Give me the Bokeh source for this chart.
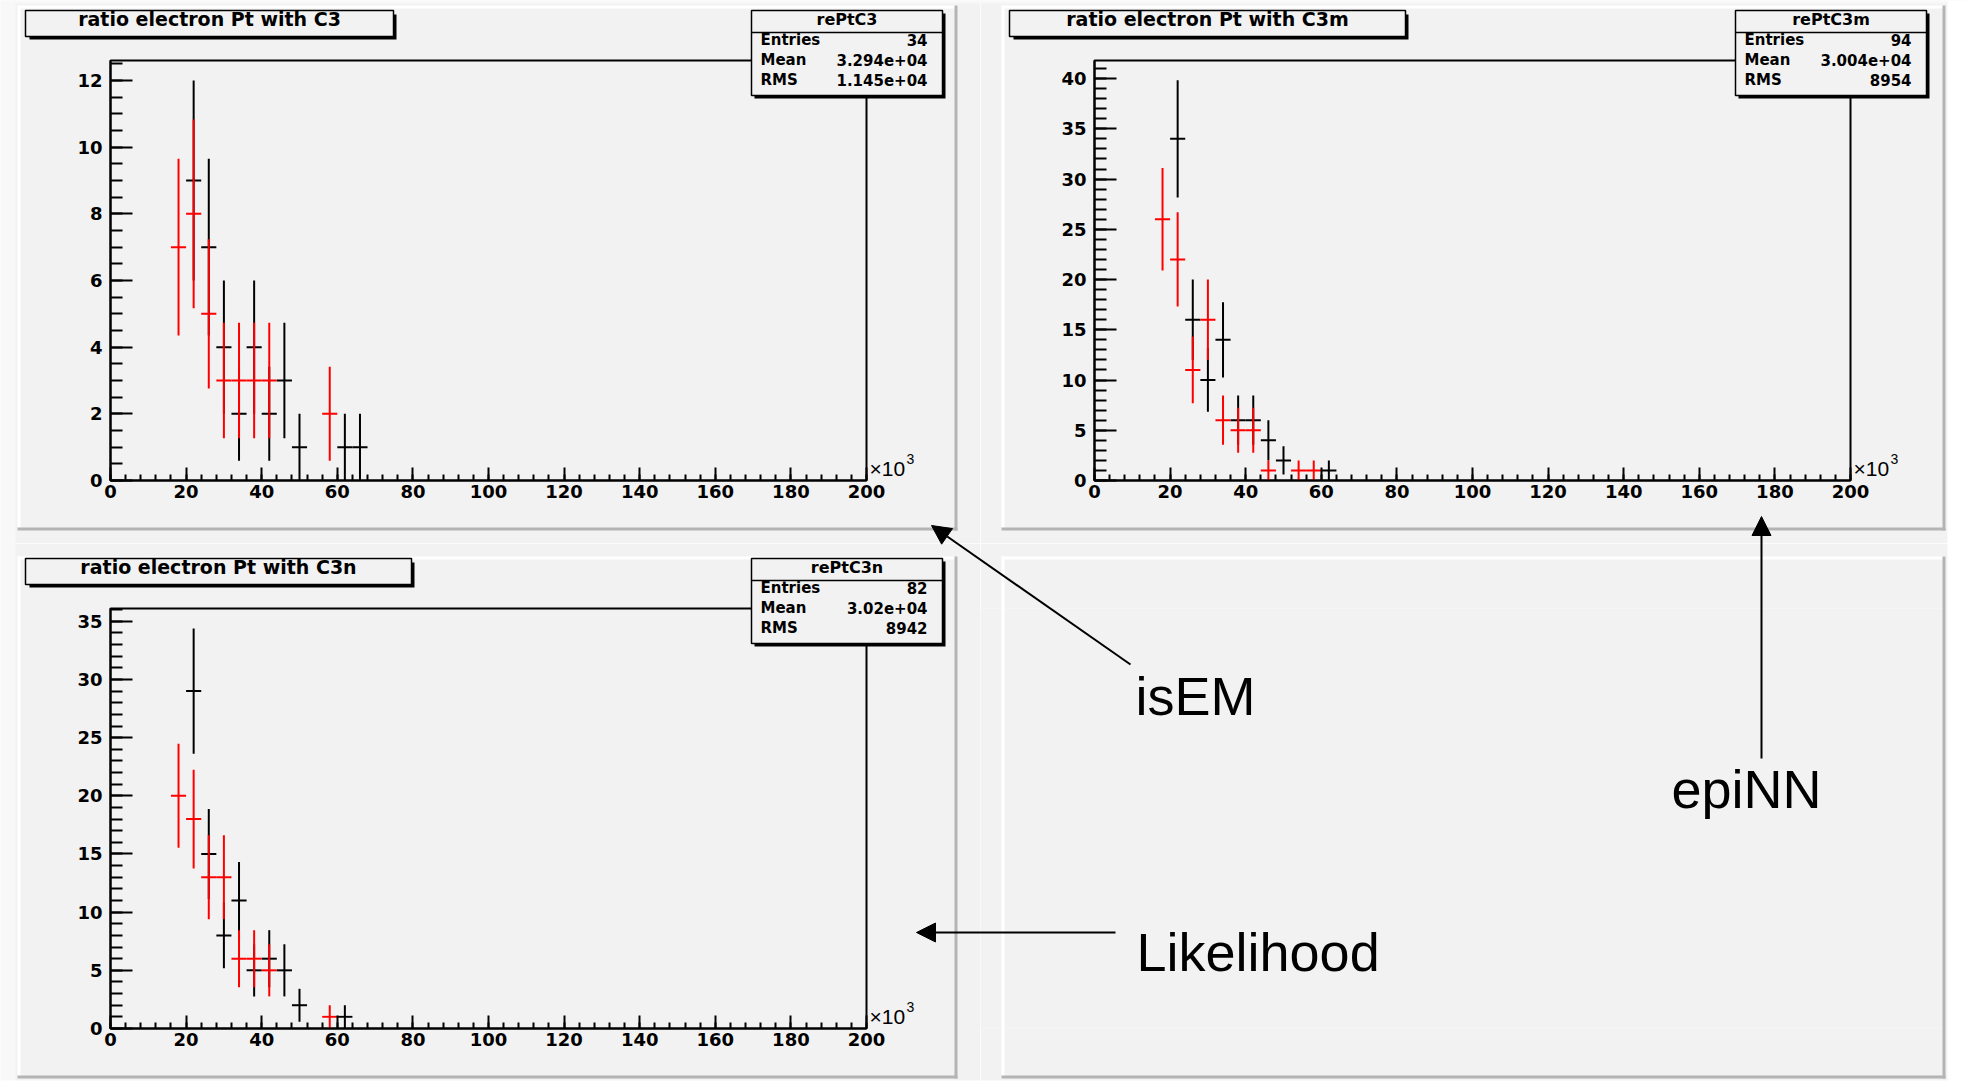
from bokeh.plotting import figure
from bokeh.models import Range1d, SingleIntervalTicker, Arrow, NormalHead
from bokeh.core.properties import value
from bokeh.layouts import row, column
from bokeh.embed import file_html
from bokeh.resources import INLINE

# ---------------- data (x in units of 10^3) ----------------
bin_width = 4.0

# ratio electron Pt with C3  (isEM)
c3_black_x = [22, 26, 30, 34, 38, 42, 46, 50, 62, 66]
c3_black_y = [9, 7, 4, 2, 4, 2, 3, 1, 1, 1]
c3_black_err = [3.0, 2.65, 2.0, 1.41, 2.0, 1.41, 1.73, 1.0, 1.0, 1.0]
c3_red_x = [18, 22, 26, 30, 34, 38, 42, 58]
c3_red_y = [7, 8, 5, 3, 3, 3, 3, 2]
c3_red_err = [2.65, 2.83, 2.24, 1.73, 1.73, 1.73, 1.73, 1.41]

# ratio electron Pt with C3m  (epiNN)
c3m_black_x = [22, 26, 30, 34, 38, 42, 46, 50, 62]
c3m_black_y = [34, 16, 10, 14, 6, 6, 4, 2, 1]
c3m_black_err = [5.83, 4.0, 3.16, 3.74, 2.45, 2.45, 2.0, 1.41, 1.0]
c3m_red_x = [18, 22, 26, 30, 34, 38, 42, 46, 54, 58]
c3m_red_y = [26, 22, 11, 16, 6, 5, 5, 1, 1, 1]
c3m_red_err = [5.10, 4.69, 3.32, 4.0, 2.45, 2.24, 2.24, 1.0, 1.0, 1.0]

# ratio electron Pt with C3n  (Likelihood)
c3n_black_x = [22, 26, 30, 34, 38, 42, 46, 50, 62]
c3n_black_y = [29, 15, 8, 11, 5, 6, 5, 2, 1]
c3n_black_err = [5.39, 3.87, 2.83, 3.32, 2.24, 2.45, 2.24, 1.41, 1.0]
c3n_red_x = [18, 22, 26, 30, 34, 38, 42, 58]
c3n_red_y = [20, 18, 13, 13, 6, 6, 5, 1]
c3n_red_err = [4.47, 4.24, 3.61, 3.61, 2.45, 2.45, 2.24, 1.0]

titles = ["ratio electron Pt with C3", "ratio electron Pt with C3m", "ratio electron Pt with C3n"]
stat_names = ["rePtC3", "rePtC3m", "rePtC3n"]
stat_keys = ["Entries", "Mean", "RMS"]
stat_values = [["34", "3.294e+04", "1.145e+04"],
               ["94", "3.004e+04", "8954"],
               ["82", "3.02e+04", "8942"]]
y_max = [12.6, 41.8, 36.1]
y_major = [2, 5, 5]
y_minor = [4, 5, 5]
annot_texts = ["isEM", "epiNN", "Likelihood"]

# ---------------- style / layout ----------------
PAD = "#f2f2f2"
SHADOW = "#b4b4b4"
RFONT = "DejaVu Sans"
AFONT = "Liberation Sans"
W, H = 1965, 1083
COLX, ROWY = 980, 543

# frames (page pixels): left, top, right, bottom
frames = [(110, 60, 866, 480), (1094, 60, 1850, 480), (110, 608, 866, 1028)]
origins = [(0, 0), (COLX, 0), (0, ROWY)]
sizes = [(COLX, ROWY), (W - COLX, ROWY), (COLX, H - ROWY)]
pads = [(17, 5, 957, 530), (1001, 5, 1945, 530), (17, 556, 957, 1078), (1001, 556, 1945, 1078)]
title_widths = [368, 396, 386]


def hist_panel(idx, series):
    ox, oy = origins[idx]
    w, h = sizes[idx]
    fl, ft, fr, fb = frames[idx]
    p = figure(width=w, height=h, x_range=Range1d(0, 200), y_range=Range1d(0, y_max[idx]),
               min_border_left=fl - ox, min_border_right=w - (fr - ox),
               min_border_top=ft - oy, min_border_bottom=h - (fb - oy),
               toolbar_location=None, output_backend="svg",
               background_fill_color=PAD, border_fill_color=PAD,
               outline_line_color="black", outline_line_width=2)
    p.grid.visible = False
    p.xaxis.ticker = SingleIntervalTicker(interval=20, num_minor_ticks=5)
    p.yaxis.ticker = SingleIntervalTicker(interval=y_major[idx], num_minor_ticks=y_minor[idx])
    for ax in (p.xaxis[0], p.yaxis[0]):
        ax.axis_line_width = 2
        ax.major_tick_line_width = 2
        ax.minor_tick_line_width = 2
        ax.major_tick_out = 0
        ax.minor_tick_out = 0
        ax.major_label_text_font = RFONT
        ax.major_label_text_font_style = "bold"
        ax.major_label_text_font_size = "18px"
        ax.major_label_text_color = "black"
    p.xaxis.major_tick_in = 13
    p.xaxis.minor_tick_in = 6
    p.xaxis.major_label_standoff = 4
    p.yaxis.major_tick_in = 22
    p.yaxis.minor_tick_in = 12
    p.yaxis.major_label_standoff = 8

    for xs, ys, es, col in series:
        p.segment(x0=xs, y0=[y - e for y, e in zip(ys, es)], x1=xs,
                  y1=[y + e for y, e in zip(ys, es)], line_color=col, line_width=2)
        p.segment(x0=[x - bin_width / 2 for x in xs], y0=ys,
                  x1=[x + bin_width / 2 for x in xs], y1=ys, line_color=col, line_width=2)
    return p


p1 = hist_panel(0, [(c3_black_x, c3_black_y, c3_black_err, "black"),
                    (c3_red_x, c3_red_y, c3_red_err, "#ff0000")])
p2 = hist_panel(1, [(c3m_black_x, c3m_black_y, c3m_black_err, "black"),
                    (c3m_red_x, c3m_red_y, c3m_red_err, "#ff0000")])
p3 = hist_panel(2, [(c3n_black_x, c3n_black_y, c3n_black_err, "black"),
                    (c3n_red_x, c3n_red_y, c3n_red_err, "#ff0000")])
p4 = figure(width=W - COLX, height=H - ROWY, min_border=0, x_axis_location=None,
            y_axis_location=None, toolbar_location=None, output_backend="svg",
            background_fill_color=PAD, border_fill_color=PAD, outline_line_color=None)
p4.grid.visible = False

base = column(row(p1, p2, spacing=0), row(p3, p4, spacing=0), spacing=0)

# ---------------- transparent overlay in page pixels ----------------
ov = figure(width=W, height=H, x_range=Range1d(0, W), y_range=Range1d(H, 0), min_border=0,
            x_axis_location=None, y_axis_location=None, toolbar_location=None,
            output_backend="svg", background_fill_color=None, border_fill_color=None,
            outline_line_color=None,
            styles={"position": "absolute", "left": "0px", "top": "0px"},
            stylesheets=[":host { position: absolute !important; left: 0px !important; "
                         "top: 0px !important; }"])
ov.grid.visible = False


def box(l, t, r, b, fill, line=None, lw=1.0):
    ov.quad(left=[l], right=[r], top=[t], bottom=[b], fill_color=fill, fill_alpha=1.0,
            line_color=line, line_width=lw)


def txt(x, y, s, size, font=RFONT, bold=True, align="left"):
    # y is the wanted baseline; compensate the renderer's baseline offset
    shift = 0.45 * size if size < 30 else 0.37 * size
    ov.text(x=[x], y=[y - shift], text=[s], text_font=value(font), text_font_size=f"{size}px",
            text_font_style="bold" if bold else "normal", text_align=align,
            text_baseline="alphabetic", text_color="black")


# canvas margins outside the pads
box(0, 0, 15, H, "#f8f8f8")
box(0, 0, W, 3, "#f8f8f8")
box(1947, 0, W, H, "white")
box(0, 1080, W, H, "white")

# pad bevels
for x0, y0, x1, y1 in pads:
    box(x0, y0, x1, y0 + 3, "white")
    box(x0, y0, x0 + 3, y1, "white")
    box(x1 - 3, y0, x1, y1, SHADOW)
    box(x0, y1 - 3, x1, y1, SHADOW)

for idx in range(3):
    fl, ft, fr, fb = frames[idx]
    # title box
    tl, tt, tb = fl - 85, ft - 50, ft - 24
    tr = tl + title_widths[idx]
    box(tl + 4, tt + 4, tr + 3, tb + 3, "black")
    box(tl, tt, tr, tb, PAD, "black", 1.5)
    txt((tl + tr) / 2, ft - 33, titles[idx], 19, align="center")
    # stats box
    sl, sr, st, sb = fl + 641, fl + 832, ft - 50, ft + 35
    box(sl + 3, st + 3, sr + 3, sb + 3, "black")
    box(sl, st, sr, sb, PAD, "black", 1.5)
    ov.segment(x0=[sl], y0=[ft - 28], x1=[sr], y1=[ft - 28], line_color="black", line_width=1.5)
    txt((sl + sr) / 2, ft - 34, stat_names[idx], 16, align="center")
    for k, (key, val) in enumerate(zip(stat_keys, stat_values[idx])):
        yb = ft - 14 + k * 20
        txt(sl + 9, yb, key, 15)
        txt(sr - 15, yb, val, 15, align="right")
    # x10^3
    txt(fr + 3, fb - 3, "×10", 21, font=AFONT, bold=False)
    txt(fr + 40, fb - 15, "3", 14, font=AFONT, bold=False)

# annotations
txt(1135, 715, annot_texts[0], 54, font=AFONT, bold=False)
txt(1671, 808, annot_texts[1], 54, font=AFONT, bold=False)
txt(1136, 971, annot_texts[2], 54, font=AFONT, bold=False)
for xs, ys, xe, ye in [(1130, 664, 931, 525), (1761, 758, 1761, 516), (1115, 932, 916, 932)]:
    ov.add_layout(Arrow(x_start=xs, y_start=ys, x_end=xe, y_end=ye, line_color="black",
                        line_width=2,
                        end=NormalHead(size=19, fill_color="black", line_color="black",
                                       line_width=1)))

open("out.html", "w").write(file_html([base, ov], INLINE))
